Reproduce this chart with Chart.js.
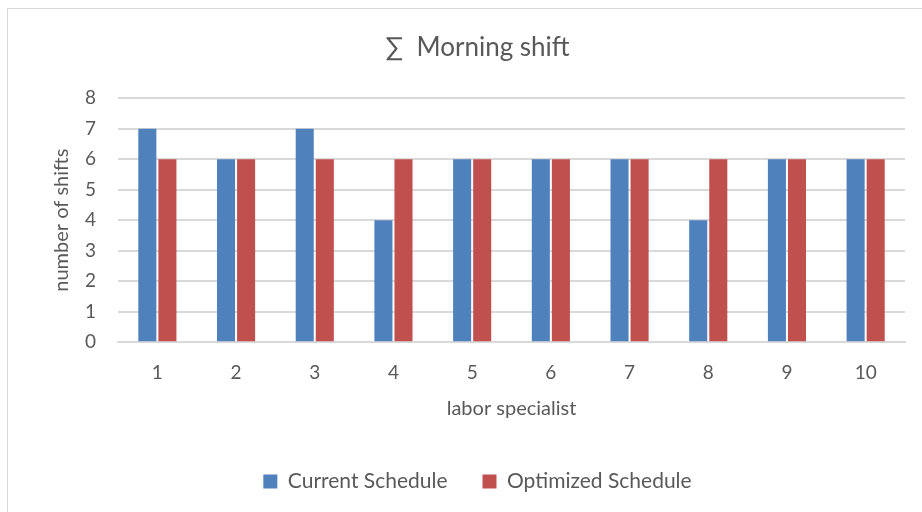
<!DOCTYPE html>
<html>
<head>
<meta charset="utf-8">
<script src="https://cdn.jsdelivr.net/npm/chart.js@4"></script>
<style>
  html, body { margin: 0; padding: 0; background: #fff; overflow: hidden; }
  #box {
    position: absolute; left: 7px; top: 8px;
    width: 920px; height: 520px;
    border: 1px solid #D9D9D9; box-sizing: border-box;
  }
</style>
</head>
<body>
<div id="box"><canvas id="chart"></canvas></div>
<script>
// labor specialists on the x axis
const specialists = ['1', '2', '3', '4', '5', '6', '7', '8', '9', '10'];
const currentSchedule = [7, 6, 7, 4, 6, 6, 6, 4, 6, 6];
const optimizedSchedule = [6, 6, 6, 6, 6, 6, 6, 6, 6, 6];

const textColor = '#595959';
const gridColor = '#D9D9D9';
Chart.defaults.font.family = 'Lato, "Open Sans", sans-serif';
Chart.defaults.color = textColor;

const ctx = document.getElementById('chart').getContext('2d');
new Chart(ctx, {
  type: 'bar',
  data: {
    labels: specialists,
    datasets: [
      { label: 'Current Schedule', data: currentSchedule, backgroundColor: '#4F81BD' },
      { label: 'Optimized Schedule', data: optimizedSchedule, backgroundColor: '#C0504D' }
    ]
  },
  options: {
    responsive: true,
    maintainAspectRatio: false,
    animation: false,
    categoryPercentage: 0.51,
    barPercentage: 0.9,
    layout: { padding: { left: 42, right: 21, top: 23, bottom: 25 } },
    plugins: {
      title: {
        display: true,
        text: '∑  Morning shift',
        font: { size: 26, weight: 'normal' },
        color: textColor,
        padding: { top: 0, bottom: 35 }
      },
      legend: {
        position: 'bottom',
        labels: {
          boxWidth: 14, boxHeight: 14,
          padding: 35,
          font: { size: 21 },
          color: textColor
        }
      },
      tooltip: { enabled: false }
    },
    scales: {
      x: {
        grid: { display: false, drawTicks: false },
        border: { display: true, color: gridColor, width: 2 },
        ticks: { font: { size: 19 }, color: textColor, padding: 19 },
        title: { display: true, text: 'labor specialist', font: { size: 20 }, color: textColor, padding: { top: -6, bottom: 15 } }
      },
      y: {
        min: 0, max: 8,
        ticks: { stepSize: 1, font: { size: 19 }, color: textColor, padding: 22 },
        grid: { color: gridColor, lineWidth: 2, drawTicks: false },
        border: { display: false },
        title: { display: true, text: 'number of shifts', font: { size: 20 }, color: textColor, padding: { top: 0, bottom: -11 } }
      }
    }
  }
});
</script>
</body>
</html>
